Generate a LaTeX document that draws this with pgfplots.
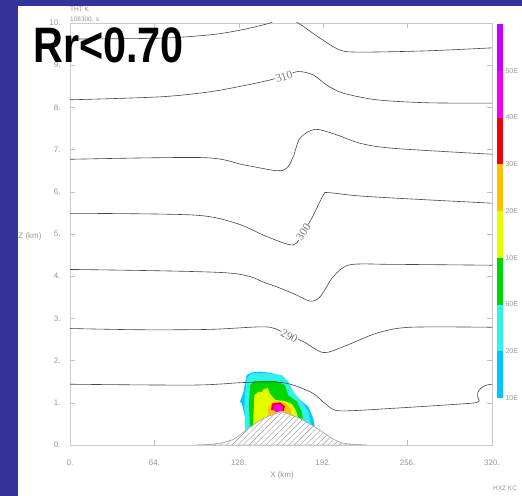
\documentclass[border=0pt]{standalone}
\usepackage{fontspec}
\usepackage{pgfplots}
\pgfplotsset{compat=1.18}
\usetikzlibrary{patterns.meta}
\setmainfont{Liberation Sans}
\newfontfamily\serifl{Liberation Serif}
\definecolor{slideblue}{RGB}{51,51,153}
\definecolor{clblue}{RGB}{0,200,255}
\definecolor{ccyan}{RGB}{50,240,235}
\definecolor{cgreen}{RGB}{0,215,0}
\definecolor{cyellow}{RGB}{225,255,0}
\definecolor{corange}{RGB}{255,195,0}
\definecolor{cred}{RGB}{240,0,0}
\definecolor{cmagenta}{RGB}{240,0,240}
\definecolor{cpurple}{RGB}{200,0,255}
\definecolor{lblgray}{RGB}{150,150,150}
\definecolor{cline}{RGB}{70,70,70}
\begin{document}
\begin{tikzpicture}
\useasboundingbox (0,0) rectangle (522bp,496bp);
\fill[slideblue] (0,0) rectangle (522bp,496bp);
\fill[white] (18bp,0) rectangle (522bp,490bp);
\begin{axis}[
  at={(70bp,51bp)}, anchor=south west,
  width=422bp, height=422bp, scale only axis,
  xmin=0, xmax=320, ymin=0, ymax=10,
  xtick={0,64,128,192,256,320},
  xticklabels={0.,64.,128.,192.,256.,320.},
  ytick={0,1,2,3,4,5,6,7,8,9,10},
  yticklabels={0.,1.,2.,3.,4.,5.,6.,7.,8.,9.,10.},
  tick align=inside, major tick length=5bp,
  tick style={lblgray!60, line width=0.4bp},
  axis line style={lblgray!50, line width=0.5bp},
  xticklabel style={font=\fontsize{8}{9}\selectfont, text=lblgray, yshift=-11bp},
  yticklabel style={font=\fontsize{8}{9}\selectfont, text=lblgray, xshift=-6bp},
  clip=true,
]
% cloud / precipitation filled contours
\addplot[fill=clblue, draw=none] coordinates {
 (136.5,0.2) (136.5,0.28) (132.7,0.67) (130.2,0.99) (128.9,1.03) (131.4,1.23) (132.7,1.46)
 (134.0,1.66) (137.8,1.72) (144.1,1.74) (151.7,1.71) (158.0,1.66) (161.7,1.54)
 (166.8,1.38) (170.6,1.18) (174.4,1.07) (180.7,0.91) (184.5,0.63) (185.8,0.40) (185.8,0.2)} -- cycle;
\addplot[fill=ccyan, draw=none] coordinates {
 (132.7,0.2) (132.7,0.47) (132.2,0.95) (132.7,1.18) (134.0,1.58) (137.8,1.70) (150.4,1.70)
 (160.5,1.66) (165.5,1.50) (169.3,1.26) (175.7,1.03) (180.7,0.79) (182.7,0.47) (182.7,0.2)} -- cycle;
\addplot[fill=cgreen, draw=none] coordinates {
 (136.5,0.3) (136.5,0.43) (135.7,0.95) (136.5,1.42) (140.3,1.52) (155.5,1.52) (163.0,1.42)
 (165.5,1.18) (171.9,1.03) (175.7,0.79) (176.9,0.55) (176.9,0.3)} -- cycle;
\addplot[fill=cyellow, draw=none] coordinates {
 (139.0,0.4) (139.0,0.63) (139.8,1.18) (142.8,1.26) (145.6,1.26) (147.1,1.33) (150.1,1.35)
 (151.7,1.21) (155.5,1.07) (163.0,1.04) (168.3,0.97) (171.4,0.81) (172.9,0.64) (172.9,0.4)} -- cycle;
\addplot[fill=corange, draw=none] coordinates {
 (150.1,0.6) (150.1,0.88) (153.2,1.02) (159.2,1.04) (164.5,0.97) (167.6,0.83) (167.6,0.6)} -- cycle;
\addplot[fill=cred, draw=none] coordinates {
 (152.4,0.83) (153.2,0.98) (159.2,1.01) (163.0,0.92) (162.2,0.81)} -- cycle;
\addplot[fill=cmagenta, draw=none] coordinates {
 (153.9,0.84) (154.7,0.95) (158.5,0.96) (161.5,0.89) (160.7,0.81) (156.2,0.78)} -- cycle;
% mountain
\addplot[fill=white, draw=lblgray!80, line width=0.4bp,
  postaction={pattern={Lines[angle=45, distance=4bp, line width=0.4bp]}, pattern color=lblgray}]
 coordinates {(95,0) (105,0.01) (111.2,0.03) (117,0.06) (123.8,0.13) (134,0.36) (144.1,0.59)
 (152,0.70) (160.5,0.79) (167,0.72) (174.4,0.63) (187.1,0.40) (199.7,0.135) (206,0.05)
 (212.3,0.02) (225,0)} -- cycle;
% theta contours
\addplot[cline, line width=0.6bp, smooth, tension=0.5] coordinates {
 (0,9.62) (68.2,9.64) (106.2,9.72) (128.9,9.83) (151.7,10.0) (162,10.15) (173,10.0)
 (189.6,9.64) (204.7,9.36) (219.9,9.31) (270.5,9.34) (319.8,9.41) (320,9.41)};
\addplot[cline, line width=0.6bp, smooth, tension=0.5] coordinates {
 (0,8.18) (68.2,8.25) (106.2,8.37) (134,8.53) (151.7,8.65) (162.3,8.74) (173,8.85)
 (184.4,8.77) (194.7,8.53) (207,8.34) (232.5,8.18) (270.5,8.11) (320,8.10)};
\addplot[cline, line width=0.6bp, smooth, tension=0.5] coordinates {
 (0,6.77) (101,6.81) (131.4,6.64) (156.7,6.50) (164.3,6.56) (169.3,6.83) (174.4,7.27)
 (185.8,7.48) (202.2,7.35) (220,7.15) (245.3,7.03) (320,6.89)};
\addplot[cline, line width=0.6bp, smooth, tension=0.5] coordinates {
 (0,5.49) (93.5,5.45) (126.4,5.25) (149.2,4.94) (169.3,4.74) (176.9,5.05) (183.3,5.37)
 (192.1,5.92) (196,5.98) (220,5.90) (270.5,5.81) (320,5.73)};
\addplot[cline, line width=0.6bp, smooth, tension=0.5] coordinates {
 (0,4.16) (118.8,4.08) (149.2,3.83) (169.3,3.59) (182,3.41) (189.6,3.51) (199.7,3.99)
 (212.3,4.27) (245.3,4.28) (320,4.26)};
\addplot[cline, line width=0.6bp, smooth, tension=0.5] coordinates {
 (0,2.76) (55.6,2.73) (106.2,2.74) (144.1,2.80) (155.5,2.76) (166.3,2.58) (177,2.45)
 (192.1,2.19) (207.3,2.33) (232.6,2.65) (257.8,2.79) (320,2.79)};
\addplot[cline, line width=0.6bp, smooth, tension=0.5] coordinates {
 (0,1.44) (93.5,1.42) (131.4,1.48) (156.7,1.49) (169.3,1.42) (184.5,1.22) (194.7,0.95)
 (204.8,0.81) (245.3,0.87) (300,0.98) (308.4,1.01) (310.3,1.05) (309.2,1.14) (309.3,1.25)
 (311.7,1.35) (316,1.42) (320,1.44)};
% contour labels
\node[font=\serifl\fontsize{11.5}{12}\selectfont, text=lblgray!80!black, fill=white, inner sep=0.5bp, rotate=18] at (axis cs:162.3,8.73) {310};
\node[font=\serifl\fontsize{11.5}{12}\selectfont, text=lblgray!80!black, fill=white, inner sep=0.5bp, rotate=56] at (axis cs:176.9,5.05) {300};
\node[font=\serifl\fontsize{11.5}{12}\selectfont, text=lblgray!80!black, fill=white, inner sep=0.5bp, rotate=-28] at (axis cs:166.3,2.58) {290};
\end{axis}
% colour bar
\begin{axis}[
  at={(497bp,98bp)}, anchor=south west,
  width=6bp, height=374bp, scale only axis,
  xmin=0, xmax=1, ymin=0, ymax=8,
  axis line style={draw=none}, tick style={draw=none},
  xtick=\empty,
  ytick={0,1,2,3,4,5,6,7},
  yticklabels={10E,20E,60E,10E,20E,30E,40E,50E},
  yticklabel pos=right,
  yticklabel style={font=\fontsize{7}{8}\selectfont, text=lblgray, anchor=west, xshift=-1bp},
]
\addplot[fill=clblue, draw=none] coordinates {(0,0) (1,0) (1,1) (0,1)} -- cycle;
\addplot[fill=ccyan, draw=none] coordinates {(0,1) (1,1) (1,2) (0,2)} -- cycle;
\addplot[fill=cgreen, draw=none] coordinates {(0,2) (1,2) (1,3) (0,3)} -- cycle;
\addplot[fill=cyellow, draw=none] coordinates {(0,3) (1,3) (1,4) (0,4)} -- cycle;
\addplot[fill=corange, draw=none] coordinates {(0,4) (1,4) (1,5) (0,5)} -- cycle;
\addplot[fill=cred, draw=none] coordinates {(0,5) (1,5) (1,6) (0,6)} -- cycle;
\addplot[fill=cmagenta, draw=none] coordinates {(0,6) (1,6) (1,7) (0,7)} -- cycle;
\addplot[fill=cpurple, draw=none] coordinates {(0,7) (1,7) (1,8) (0,8)} -- cycle;
\end{axis}
% texts
\node[anchor=center, font=\fontsize{8}{9}\selectfont, text=lblgray] at (282bp,21bp) {X (km)};
\node[anchor=east, font=\fontsize{8}{9}\selectfont, text=lblgray] at (45bp,260bp) {Z (km)};
\node[anchor=west, font=\fontsize{6.5}{7}\selectfont, text=lblgray, inner sep=0] at (70bp,487bp) {THT K};
\node[anchor=west, font=\fontsize{6.5}{7}\selectfont, text=lblgray, inner sep=0] at (70bp,477bp) {108300. s};
\node[anchor=west, font=\fontsize{6.5}{7}\selectfont, text=lblgray, inner sep=0] at (493bp,8bp) {HXZ KC};
\node[anchor=base west, font=\bfseries\fontsize{50}{50}\selectfont, xscale=0.83, inner sep=0] at (33bp,433bp) {Rr<0.70};
\end{tikzpicture}
\end{document}
